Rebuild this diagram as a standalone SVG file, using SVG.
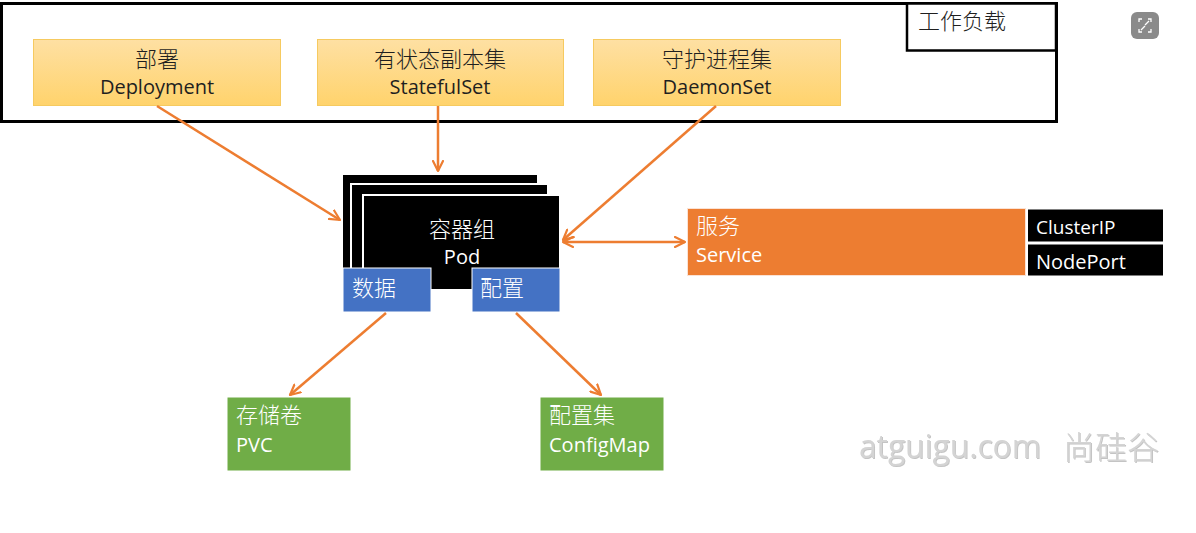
<svg xmlns="http://www.w3.org/2000/svg" width="1196" height="533" viewBox="0 0 1196 533">
<defs>
  <linearGradient id="yg" x1="0" y1="0" x2="0" y2="1">
    <stop offset="0" stop-color="#fee0a3"/>
    <stop offset="1" stop-color="#ffd36c"/>
  </linearGradient>
  <marker id="ah" viewBox="0 0 12 12" refX="11" refY="6" markerWidth="12" markerHeight="12" markerUnits="userSpaceOnUse" orient="auto-start-reverse">
    <path d="M1,1 L11,6 L1,11" fill="none" stroke="#ed7d31" stroke-width="2.2" stroke-linecap="round" stroke-linejoin="round"/>
  </marker>
  <filter id="sh" x="-5%" y="-20%" width="110%" height="140%">
    <feDropShadow dx="1" dy="1" stdDeviation="0.6" flood-color="#888" flood-opacity="0.5"/>
  </filter>
</defs>
<style>
  .zh { font-family: "Noto Sans CJK SC", "Noto Sans", sans-serif; font-weight: 300; }
  .en { font-family: "Open Sans", "Noto Sans", "Noto Sans CJK SC", sans-serif; }
  .dark { fill: #1f1f1f; }
  .wt { fill: #ffffff; }
  .ybox { fill: url(#yg); stroke: #f6ca60; stroke-width: 1; }
  .conn { stroke: #ed7d31; stroke-width: 2.5; fill: none; marker-end: url(#ah); }
  .blue { fill: #4472c4; stroke: #ffffff; stroke-width: 1; }
  .green { fill: #70ad47; stroke: #ffffff; stroke-width: 1; }
  .blk { fill: #000000; stroke: #ffffff; stroke-width: 2; }
</style>
<rect width="1196" height="533" fill="#ffffff"/>

<g id="workload">
  <rect x="1.5" y="3.5" width="1055" height="118" fill="none" stroke="#000" stroke-width="3"/>
  <rect x="907" y="3.5" width="149" height="47" fill="#fff" stroke="#000" stroke-width="2.5"/>
  <text x="918" y="29" class="zh dark" font-size="22">工作负载</text>
</g>

<g id="deployment">
  <rect class="ybox" x="33.5" y="39.5" width="247" height="66"/>
  <text x="157" y="67" text-anchor="middle" class="zh dark" font-size="22">部署</text>
  <text x="157" y="94" text-anchor="middle" class="en dark" font-size="20">Deployment</text>
</g>
<g id="statefulset">
  <rect class="ybox" x="317.5" y="39.5" width="246" height="66"/>
  <text x="440" y="67" text-anchor="middle" class="zh dark" font-size="22">有状态副本集</text>
  <text x="440" y="94" text-anchor="middle" class="en dark" font-size="20">StatefulSet</text>
</g>
<g id="daemonset">
  <rect class="ybox" x="593.5" y="39.5" width="247" height="66"/>
  <text x="717" y="67" text-anchor="middle" class="zh dark" font-size="22">守护进程集</text>
  <text x="717" y="94" text-anchor="middle" class="en dark" font-size="20">DaemonSet</text>
</g>

<g id="pod">
  <rect class="blk" x="342" y="174" width="196" height="100"/>
  <rect class="blk" x="351" y="184" width="197" height="95"/>
  <rect class="blk" x="363" y="195" width="197" height="95"/>
  <text x="462" y="237" text-anchor="middle" class="zh wt" font-size="22">容器组</text>
  <text x="462" y="264" text-anchor="middle" class="en wt" font-size="20">Pod</text>
</g>
<g id="data">
  <rect class="blue" x="343" y="268" width="88" height="44"/>
  <text x="352" y="296" class="zh wt" font-size="22">数据</text>
</g>
<g id="config">
  <rect class="blue" x="472" y="268" width="88" height="44"/>
  <text x="480" y="296" class="zh wt" font-size="22">配置</text>
</g>

<g id="service">
  <rect x="687.5" y="208.5" width="338" height="67" fill="#ed7d31" stroke="#fbe2d4" stroke-width="1"/>
  <text x="696" y="234" class="zh wt" font-size="22">服务</text>
  <text x="696" y="262" class="en wt" font-size="20">Service</text>
</g>
<g id="clusterip">
  <rect x="1027.5" y="209" width="136" height="33" fill="#000" stroke="#fff" stroke-width="1"/>
  <text x="1036" y="234" class="en wt" font-size="19">ClusterIP</text>
</g>
<g id="nodeport">
  <rect x="1027.5" y="244" width="136" height="32" fill="#000" stroke="#fff" stroke-width="1"/>
  <text x="1036" y="269" class="en wt" font-size="20">NodePort</text>
</g>

<g id="pvc">
  <rect class="green" x="227" y="397" width="124" height="74"/>
  <text x="236" y="423" class="zh wt" font-size="22">存储卷</text>
  <text x="236" y="452" class="en wt" font-size="20">PVC</text>
</g>
<g id="configmap">
  <rect class="green" x="540" y="397" width="124" height="74"/>
  <text x="549" y="423" class="zh wt" font-size="22">配置集</text>
  <text x="549" y="452" class="en wt" font-size="20">ConfigMap</text>
</g>

<g id="connectors">
  <line class="conn" x1="157" y1="106" x2="340" y2="220"/>
  <line class="conn" x1="438" y1="106" x2="438" y2="171"/>
  <line class="conn" x1="716" y1="106" x2="563" y2="240"/>
  <line class="conn" x1="563" y1="242" x2="685" y2="242" marker-start="url(#ah)"/>
  <line class="conn" x1="386" y1="313" x2="290" y2="395"/>
  <line class="conn" x1="516" y1="313" x2="601" y2="395"/>
</g>

<g id="watermark" filter="url(#sh)">
  <text x="859" y="458" class="en" font-size="32" fill="#d4d4d4" textLength="182" lengthAdjust="spacingAndGlyphs">atguigu.com</text>
  <text x="1063" y="459" class="zh" font-size="32" fill="#d4d4d4">尚硅谷</text>
</g>

<g id="expand-icon">
  <rect x="1131" y="12" width="28" height="27" rx="6" fill="#8a8a8a"/>
  <path d="M1139,22 v-3 h3 M1148,19 h3 v3 M1151,29 v3 h-3 M1142,32 h-3 v-3" fill="none" stroke="#fff" stroke-width="1.3"/>
  <path d="M1141,30 L1145,26 M1149,21 L1145,25" fill="none" stroke="#fff" stroke-width="1.3"/>
</g>
</svg>
